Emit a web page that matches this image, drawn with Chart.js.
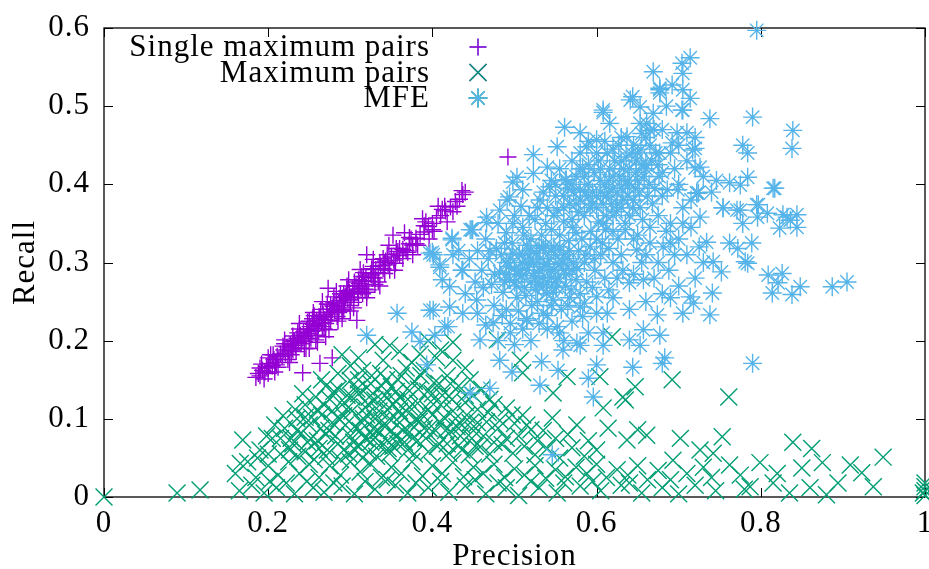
<!DOCTYPE html>
<html>
<head>
<meta charset="utf-8">
<script src="https://cdn.jsdelivr.net/npm/chart.js@4.4.1/dist/chart.umd.min.js"></script>
<style>
  html, body { margin: 0; padding: 0; background: #fff; overflow: hidden; }
  canvas { display: block; }
</style>
</head>
<body>
<canvas id="chart" width="929" height="569"></canvas>
<script>
// series labels (legend order)
const seriesNames = ['Single maximum pairs', 'Maximum pairs', 'MFE'];

// [precision, recall]
const singlePairs = [
  [0.185,0.153],[0.188,0.158],[0.19,0.155],[0.193,0.162],[0.196,0.160],[0.198,0.167],[0.2,0.165],[0.202,0.171],
  [0.205,0.168],[0.207,0.176],[0.209,0.172],[0.211,0.180],[0.213,0.176],[0.215,0.183],[0.217,0.180],[0.219,0.188],
  [0.221,0.184],[0.223,0.192],[0.225,0.187],[0.227,0.195],[0.229,0.191],[0.231,0.199],[0.233,0.194],[0.235,0.203],
  [0.237,0.198],[0.239,0.207],[0.241,0.201],[0.243,0.211],[0.245,0.205],[0.247,0.214],[0.249,0.209],[0.251,0.218],
  [0.253,0.212],[0.255,0.221],[0.257,0.216],[0.259,0.226],[0.261,0.219],[0.263,0.229],[0.265,0.223],[0.267,0.233],
  [0.269,0.227],[0.271,0.236],[0.273,0.231],[0.275,0.240],[0.277,0.234],[0.279,0.244],[0.281,0.238],[0.283,0.248],
  [0.285,0.242],[0.287,0.251],[0.289,0.245],[0.291,0.255],[0.293,0.249],[0.295,0.258],[0.297,0.253],[0.299,0.262],
  [0.301,0.256],[0.303,0.266],[0.305,0.260],[0.307,0.270],[0.309,0.263],[0.311,0.273],[0.313,0.267],[0.315,0.277],
  [0.317,0.270],[0.319,0.281],[0.322,0.276],[0.325,0.286],[0.328,0.281],[0.331,0.291],[0.334,0.287],[0.337,0.296],
  [0.340,0.292],[0.343,0.302],[0.346,0.297],[0.35,0.307],[0.353,0.303],[0.357,0.311],[0.36,0.309],[0.364,0.317],
  [0.368,0.315],[0.372,0.324],[0.376,0.322],[0.38,0.331],[0.385,0.336],[0.39,0.339],[0.395,0.346],[0.40,0.350],
  [0.405,0.357],[0.41,0.360],[0.416,0.366],[0.422,0.371],[0.428,0.378],[0.433,0.381],[0.437,0.387],[0.44,0.39],
  [0.21,0.169],[0.23,0.188],[0.24,0.196],[0.25,0.225],[0.26,0.213],[0.262,0.231],[0.27,0.222],[0.28,0.249],
  [0.29,0.238],[0.296,0.264],[0.3,0.252],[0.31,0.278],[0.318,0.266],[0.326,0.292],[0.33,0.280],[0.345,0.310],
  [0.355,0.299],[0.22,0.196],[0.228,0.182],[0.236,0.210],[0.244,0.199],[0.254,0.228],[0.266,0.218],[0.276,0.246],
  [0.286,0.236],[0.292,0.260],[0.304,0.249],[0.314,0.282],[0.32,0.262],[0.336,0.300],[0.342,0.286],[0.36,0.318],
  [0.37,0.313],[0.38,0.324],[0.39,0.347],[0.4,0.342],[0.415,0.372],[0.43,0.372],[0.2,0.178],[0.195,0.151],[0.19,0.165],
  [0.192,0.17],[0.2,0.158],[0.206,0.182],[0.212,0.166],[0.218,0.193],[0.224,0.176],[0.23,0.206],[0.234,0.186],
  [0.238,0.215],[0.244,0.19],[0.248,0.224],[0.252,0.203],[0.256,0.232],[0.26,0.207],[0.264,0.24],[0.268,0.215],
  [0.272,0.247],[0.276,0.226],[0.28,0.256],[0.284,0.231],[0.288,0.26],[0.292,0.24],[0.296,0.27],[0.3,0.245],
  [0.305,0.275],[0.31,0.255],[0.316,0.287],[0.322,0.265],[0.328,0.295],[0.334,0.275],[0.34,0.305],[0.348,0.29],
  [0.356,0.318],[0.364,0.305],[0.372,0.332],[0.382,0.322],[0.392,0.352],[0.402,0.34],[0.412,0.368],[0.425,0.365],
  [0.436,0.392],[0.27,0.205],[0.285,0.225],[0.3,0.238],[0.315,0.26],[0.33,0.272],[0.26,0.198],[0.25,0.19],
  [0.203,0.182],[0.208,0.16],[0.22,0.201],[0.226,0.172],[0.238,0.222],[0.246,0.19],[0.255,0.236],[0.258,0.201],
  [0.266,0.25],[0.274,0.214],[0.283,0.263],[0.29,0.228],[0.298,0.278],[0.304,0.242],[0.312,0.291],[0.32,0.255],
  [0.328,0.304],[0.336,0.27],[0.347,0.322],[0.354,0.29],[0.366,0.338],[0.376,0.31],[0.388,0.356],[0.396,0.33],
  [0.407,0.372],[0.418,0.352],[0.232,0.2],[0.248,0.215],[0.262,0.226],[0.278,0.24],[0.294,0.256],[0.31,0.27],
  [0.326,0.284],[0.342,0.3],[0.358,0.314],[0.374,0.33],
  [0.352,0.335],[0.320,0.310],[0.273,0.267],[0.242,0.159],[0.263,0.171],[0.278,0.178],[0.308,0.226],[0.492,0.435]
];

const maxPairs = [
  [0.29,0.182],[0.31,0.178],[0.33,0.195],[0.348,0.194],[0.36,0.186],[0.375,0.172],[0.395,0.2],[0.41,0.188],
  [0.425,0.175],[0.30,0.168],[0.34,0.175],[0.385,0.183],[0.44,0.165],[0.265,0.15],[0.405,0.178],
  [0.27,0.142],[0.285,0.158],[0.3,0.149],[0.315,0.162],[0.325,0.145],[0.337,0.158],[0.35,0.141],[0.362,0.155],
  [0.378,0.148],[0.39,0.162],[0.402,0.146],[0.418,0.155],[0.432,0.142],[0.446,0.15],[0.46,0.138],[0.258,0.128],
  [0.31,0.132],[0.342,0.13],[0.372,0.136],[0.42,0.129],
  [0.245,0.118],[0.26,0.112],[0.275,0.125],[0.29,0.118],[0.302,0.128],[0.318,0.115],[0.33,0.124],[0.345,0.112],
  [0.356,0.122],[0.368,0.11],[0.382,0.12],[0.395,0.112],[0.41,0.118],[0.425,0.11],[0.44,0.121],[0.455,0.112],
  [0.47,0.125],[0.49,0.114],[0.51,0.105],[0.285,0.138],[0.32,0.14],[0.36,0.128],[0.4,0.132],[0.45,0.13],[0.475,0.118],
  [0.22,0.088],[0.235,0.1],[0.25,0.092],[0.265,0.105],[0.278,0.095],[0.292,0.104],[0.305,0.09],[0.316,0.1],
  [0.328,0.088],[0.338,0.098],[0.35,0.085],[0.36,0.095],[0.372,0.083],[0.384,0.097],[0.396,0.088],[0.41,0.095],
  [0.422,0.084],[0.436,0.092],[0.45,0.085],[0.466,0.096],[0.48,0.088],[0.5,0.094],[0.52,0.086],[0.546,0.101],
  [0.576,0.092],[0.614,0.088],[0.65,0.086],[0.24,0.082],[0.27,0.08],[0.3,0.078],[0.33,0.076],[0.345,0.072],[0.325,0.07],
  [0.169,0.073],[0.19,0.06],[0.205,0.075],[0.215,0.055],[0.23,0.068],[0.245,0.058],[0.26,0.072],[0.272,0.06],
  [0.285,0.068],[0.298,0.055],[0.31,0.065],[0.322,0.058],[0.335,0.066],[0.348,0.056],[0.358,0.068],[0.37,0.06],
  [0.382,0.072],[0.395,0.058],[0.408,0.068],[0.42,0.056],[0.432,0.066],[0.445,0.054],[0.458,0.064],[0.47,0.055],
  [0.485,0.067],[0.498,0.056],[0.512,0.065],[0.525,0.054],[0.54,0.062],[0.555,0.05],[0.57,0.063],[0.585,0.052],
  [0.6,0.06],[0.637,0.073],[0.661,0.079],[0.702,0.075],[0.726,0.06],[0.742,0.056],[0.753,0.077],[0.839,0.07],
  [0.862,0.062],[0.949,0.051],
  [0.16,0.03],[0.175,0.045],[0.185,0.025],[0.2,0.04],[0.212,0.028],[0.225,0.045],[0.238,0.03],[0.25,0.042],
  [0.262,0.025],[0.275,0.04],[0.288,0.028],[0.3,0.045],[0.312,0.032],[0.325,0.042],[0.338,0.025],[0.35,0.038],
  [0.362,0.03],[0.375,0.045],[0.388,0.027],[0.4,0.04],[0.412,0.03],[0.425,0.044],[0.438,0.026],[0.45,0.038],
  [0.462,0.03],[0.475,0.042],[0.488,0.025],[0.5,0.036],[0.512,0.028],[0.525,0.04],[0.538,0.024],[0.55,0.035],
  [0.562,0.026],[0.575,0.038],[0.588,0.03],[0.6,0.042],[0.612,0.025],[0.625,0.035],[0.638,0.028],[0.65,0.04],
  [0.662,0.022],[0.675,0.034],[0.693,0.047],[0.71,0.03],[0.73,0.038],[0.762,0.041],[0.775,0.028],[0.799,0.044],
  [0.85,0.037],[0.875,0.044],[0.909,0.041],[0.923,0.031],[0.82,0.03],
  [0,0],[0.089,0.005],[0.117,0.009],[0.165,0.008],[0.18,0.015],[0.195,0.005],[0.21,0.012],[0.232,0.004],
  [0.255,0.012],[0.268,0.006],[0.29,0.014],[0.305,0.004],[0.33,0.01],[0.355,0.015],[0.37,0.005],[0.395,0.012],
  [0.42,0.006],[0.44,0.014],[0.465,0.004],[0.49,0.012],[0.505,0.002],[0.53,0.012],[0.552,0.005],[0.58,0.014],
  [0.605,0.008],[0.63,0.015],[0.655,0.005],[0.68,0.012],[0.7,0.004],[0.72,0.015],[0.745,0.008],[0.787,0.013],
  [0.815,0.018],[0.835,0.005],[0.86,0.012],[0.894,0.018],[0.937,0.013],[0.88,0.003],
  [1,0.002],[1,0.008],[1,0.013],[1,0.018],[0.998,0.005],
  [0.692,0.15],[0.761,0.128],[0.647,0.141],[0.635,0.124],[0.608,0.114],
  [0.425,0.198],[0.479,0.201],[0.619,0.205],[0.604,0.154],[0.507,0.175],[0.51,0.159],[0.547,0.133],[0.564,0.154],
  [0.632,0.128],[0.166,0.043],
  [0.228,0.075],[0.236,0.052],[0.248,0.07],[0.256,0.048],[0.264,0.088],[0.27,0.052],[0.278,0.11],[0.282,0.078],
  [0.288,0.048],[0.294,0.092],[0.298,0.115],[0.304,0.07],[0.308,0.138],[0.312,0.085],[0.315,0.05],[0.32,0.105],
  [0.323,0.128],[0.327,0.08],[0.332,0.052],[0.335,0.11],[0.338,0.142],[0.342,0.09],[0.346,0.062],[0.352,0.118],
  [0.355,0.078],[0.358,0.15],[0.362,0.105],[0.366,0.07],[0.37,0.125],[0.375,0.092],[0.378,0.055],[0.383,0.138],
  [0.388,0.105],[0.392,0.075],[0.398,0.122],[0.404,0.085],[0.408,0.145],[0.414,0.102],[0.418,0.068],[0.424,0.125],
  [0.43,0.09],[0.436,0.06],[0.442,0.105],[0.448,0.075],[0.455,0.095],[0.462,0.078],[0.468,0.108],[0.475,0.07],
  [0.482,0.098],[0.49,0.075],[0.497,0.105],[0.505,0.078],[0.515,0.092],[0.528,0.072],[0.535,0.085],[0.55,0.075],
  [0.565,0.08],[0.59,0.072],[0.253,0.102],[0.242,0.132],[0.233,0.112],[0.218,0.104],[0.208,0.092],[0.198,0.078],
  [0.187,0.05],[0.202,0.02],[0.222,0.018],[0.247,0.02],[0.28,0.018],[0.318,0.02],[0.345,0.022],[0.38,0.018],
  [0.41,0.02],[0.452,0.022],[0.48,0.018],[0.52,0.02],[0.56,0.018],[0.595,0.02],[0.64,0.018],[0.69,0.022],
  [0.74,0.025],[0.78,0.01],
  [0.262,0.062],[0.268,0.118],[0.274,0.085],[0.28,0.135],[0.286,0.1],[0.292,0.06],[0.296,0.13],[0.302,0.11],
  [0.306,0.06],[0.31,0.15],[0.314,0.095],[0.318,0.075],[0.322,0.118],[0.326,0.155],[0.33,0.1],[0.334,0.085],
  [0.34,0.122],[0.344,0.15],[0.348,0.1],[0.352,0.065],[0.356,0.135],[0.36,0.11],[0.364,0.085],[0.368,0.165],
  [0.372,0.115],[0.376,0.075],[0.38,0.1],[0.386,0.155],[0.39,0.088],[0.394,0.135],[0.4,0.105],[0.406,0.065],
  [0.412,0.13],[0.416,0.085],[0.422,0.145],[0.428,0.1],[0.434,0.078],[0.44,0.13],[0.446,0.095],[0.452,0.065],
  [0.235,0.085],[0.245,0.102],[0.252,0.075],[0.215,0.075],[0.226,0.06],[0.2,0.055]
];

const mfePoints = [
  // dense lower core
  [0.46,0.29],[0.468,0.305],[0.472,0.272],[0.478,0.318],[0.482,0.288],[0.486,0.262],[0.49,0.3],[0.494,0.278],
  [0.497,0.325],[0.5,0.292],[0.503,0.255],[0.506,0.31],[0.509,0.283],[0.512,0.268],[0.515,0.322],[0.518,0.298],
  [0.521,0.245],[0.524,0.286],[0.527,0.312],[0.53,0.272],[0.533,0.335],[0.536,0.295],[0.539,0.26],[0.542,0.305],
  [0.545,0.281],[0.548,0.32],[0.551,0.268],[0.554,0.298],[0.557,0.24],[0.56,0.31],[0.563,0.285],[0.566,0.328],
  [0.569,0.265],[0.572,0.3],[0.575,0.278],[0.578,0.315],[0.475,0.245],[0.485,0.232],[0.495,0.222],[0.505,0.238],
  [0.515,0.228],[0.528,0.25],[0.54,0.232],[0.552,0.218],[0.565,0.245],[0.58,0.26],[0.49,0.338],[0.51,0.345],
  [0.525,0.355],[0.545,0.342],[0.56,0.352],[0.575,0.338],[0.465,0.33],[0.48,0.35],[0.5,0.36],[0.52,0.33],
  [0.535,0.318],[0.555,0.335],[0.57,0.29],[0.585,0.3],[0.588,0.275],[0.592,0.32],[0.598,0.29],[0.605,0.31],
  [0.51,0.3],[0.53,0.29],[0.52,0.275],[0.54,0.275],[0.5,0.275],[0.548,0.29],
  [0.462,0.268],[0.47,0.315],[0.476,0.285],[0.484,0.31],[0.488,0.275],[0.493,0.295],[0.498,0.312],[0.502,0.27],
  [0.507,0.29],[0.511,0.335],[0.514,0.258],[0.519,0.315],[0.523,0.3],[0.526,0.265],[0.531,0.305],[0.534,0.28],
  [0.538,0.322],[0.543,0.29],[0.547,0.262],[0.55,0.31],[0.553,0.28],[0.558,0.3],[0.562,0.27],[0.567,0.315],
  [0.571,0.345],[0.576,0.292],[0.582,0.33],[0.587,0.31],[0.593,0.34],[0.597,0.305],[0.602,0.352],[0.607,0.325],
  [0.611,0.342],[0.615,0.318],[0.62,0.36],[0.626,0.33],[0.63,0.37],[0.635,0.342],[0.64,0.36],
  [0.505,0.285],[0.51,0.31],[0.515,0.29],[0.52,0.305],[0.525,0.28],[0.53,0.32],[0.535,0.27],[0.54,0.298],
  [0.545,0.315],[0.55,0.275],[0.555,0.32],[0.56,0.29],[0.565,0.305],[0.495,0.305],[0.49,0.285],
  // dense upper core
  [0.56,0.37],[0.565,0.395],[0.57,0.355],[0.575,0.41],[0.58,0.38],[0.585,0.36],[0.59,0.425],[0.595,0.39],
  [0.6,0.37],[0.604,0.405],[0.608,0.35],[0.612,0.385],[0.616,0.42],[0.62,0.395],[0.624,0.365],[0.628,0.41],
  [0.632,0.38],[0.636,0.435],[0.64,0.4],[0.644,0.37],[0.648,0.415],[0.652,0.39],[0.656,0.355],[0.66,0.425],
  [0.664,0.4],[0.668,0.375],[0.672,0.44],[0.676,0.41],[0.68,0.385],[0.6,0.44],[0.61,0.455],[0.62,0.445],
  [0.63,0.46],[0.645,0.45],[0.655,0.465],[0.665,0.45],[0.59,0.455],[0.58,0.44],[0.57,0.43],[0.555,0.42],
  [0.545,0.405],[0.55,0.385],[0.54,0.37],[0.535,0.39],[0.62,0.34],[0.635,0.35],[0.65,0.335],[0.665,0.345],
  [0.6,0.33],[0.612,0.36],[0.625,0.39],[0.638,0.385],[0.59,0.4],[0.605,0.39],[0.615,0.405],[0.63,0.395],
  [0.647,0.395],[0.653,0.37],[0.658,0.41],[0.662,0.385],[0.667,0.43],[0.671,0.395],[0.675,0.425],[0.586,0.39],
  [0.592,0.37],[0.597,0.415],[0.602,0.43],[0.608,0.375],[0.613,0.44],[0.618,0.375],[0.622,0.43],[0.627,0.45],
  [0.633,0.42],[0.638,0.405],[0.643,0.44],[0.648,0.43],[0.654,0.445],[0.572,0.39],[0.578,0.365],[0.583,0.42],
  [0.567,0.375],[0.562,0.405],[0.548,0.36],[0.538,0.35],[0.528,0.37],[0.518,0.36],[0.508,0.372],[0.498,0.35],
  [0.488,0.325],[0.455,0.315],[0.445,0.305],[0.452,0.275],[0.44,0.26],[0.432,0.315],
  [0.6,0.385],[0.605,0.42],[0.61,0.4],[0.615,0.39],[0.62,0.41],[0.625,0.375],[0.63,0.43],[0.635,0.4],
  [0.64,0.42],[0.645,0.38],[0.65,0.405],[0.655,0.425],[0.585,0.41],[0.59,0.385],[0.595,0.375],[0.57,0.4],
  [0.575,0.375],[0.58,0.42],[0.56,0.385],[0.55,0.4],
  // upper edge
  [0.498,0.403],[0.523,0.438],[0.561,0.473],[0.608,0.492],[0.644,0.512],[0.677,0.523],[0.494,0.384],[0.466,0.358],
  [0.448,0.342],[0.424,0.329],[0.397,0.312],[0.409,0.297],[0.608,0.495],[0.641,0.508],[0.677,0.517],[0.705,0.495],
  [0.717,0.444],[0.698,0.466],[0.686,0.393],[0.722,0.389],[0.637,0.461],[0.6,0.457],[0.58,0.466],[0.616,0.478],
  [0.653,0.478],[0.669,0.491],[0.54,0.422],[0.552,0.448],[0.588,0.448],[0.523,0.414],[0.51,0.393],[0.482,0.367],
  [0.449,0.342],[0.466,0.351],[0.491,0.38],[0.503,0.409],[0.543,0.397],[0.563,0.406],[0.531,0.38],[0.552,0.367],
  [0.58,0.393],
  // top right
  [0.795,0.597],[0.714,0.562],[0.704,0.555],[0.669,0.544],[0.705,0.542],[0.677,0.521],[0.692,0.527],[0.705,0.521],
  [0.714,0.51],[0.704,0.495],[0.738,0.484],[0.79,0.486],[0.839,0.469],[0.838,0.446],[0.778,0.45],[0.784,0.44],
  [0.72,0.446],[0.726,0.422],[0.746,0.405],[0.762,0.402],[0.784,0.409],[0.775,0.399],[0.817,0.395],[0.722,0.389],
  [0.699,0.393],[0.754,0.37],[0.771,0.367],[0.795,0.374],[0.827,0.361],[0.844,0.361],[0.71,0.466],[0.665,0.469],
  [0.677,0.44],[0.692,0.453],[0.72,0.421],[0.653,0.499],[0.661,0.478],
  // right spread
  [0.905,0.275],[0.887,0.269],[0.848,0.269],[0.838,0.259],[0.814,0.261],[0.821,0.274],[0.809,0.284],[0.826,0.286],
  [0.738,0.233],[0.718,0.248],[0.741,0.261],[0.781,0.301],[0.784,0.299],[0.789,0.325],[0.762,0.325],[0.772,0.318],
  [0.734,0.326],[0.742,0.301],[0.752,0.288],[0.823,0.344],[0.836,0.354],[0.844,0.345],[0.832,0.358],[0.796,0.358],
  [0.808,0.363],[0.775,0.367],[0.754,0.37],[0.815,0.395],[0.724,0.389],[0.726,0.358],[0.778,0.35],[0.797,0.374],
  [0.69,0.35],[0.7,0.33],[0.705,0.37],[0.71,0.31],[0.715,0.345],[0.72,0.28],[0.725,0.32],[0.73,0.3],
  [0.695,0.31],[0.685,0.34],[0.675,0.36],[0.665,0.325],[0.655,0.3],[0.67,0.28],[0.645,0.33],[0.63,0.31],
  [0.62,0.3],[0.61,0.28],[0.7,0.27],[0.69,0.255],[0.68,0.26],[0.66,0.25],[0.64,0.24],[0.62,0.255],
  [0.6,0.235],[0.59,0.21],[0.57,0.225],[0.56,0.2],[0.54,0.215],[0.52,0.2],[0.5,0.195],[0.49,0.24],
  [0.7,0.4],[0.695,0.42],[0.71,0.43],[0.73,0.41],[0.74,0.39],[0.69,0.44],[0.68,0.47],[0.7,0.45],
  [0.65,0.44],[0.66,0.42],[0.67,0.47],[0.685,0.5],[0.72,0.46],
  [0.455,0.235],[0.465,0.22],[0.48,0.2],[0.51,0.215],[0.53,0.222],[0.545,0.245],[0.567,0.255],[0.585,0.248],
  [0.595,0.268],[0.615,0.265],[0.632,0.29],[0.645,0.285],[0.66,0.31],[0.675,0.3],[0.69,0.325],[0.705,0.35],
  [0.715,0.38],[0.68,0.415],[0.66,0.46],
  // left edge and lower part
  [0.401,0.31],[0.409,0.294],[0.424,0.331],[0.401,0.239],[0.421,0.243],[0.415,0.218],[0.437,0.235],[0.458,0.201],
  [0.421,0.269],[0.436,0.29],[0.446,0.342],[0.454,0.252],[0.474,0.223],[0.495,0.21],[0.515,0.226],[0.555,0.21],
  [0.576,0.197],[0.608,0.21],[0.64,0.201],[0.674,0.233],[0.688,0.29],[0.705,0.235],[0.714,0.256],[0.657,0.278],
  [0.64,0.274],[0.625,0.28],[0.649,0.316],[0.681,0.32],[0.58,0.243],[0.6,0.256],[0.547,0.252],[0.535,0.235],
  [0.583,0.231],[0.613,0.235],[0.657,0.214],[0.677,0.207],
  [0.482,0.175],[0.497,0.16],[0.533,0.173],[0.531,0.143],[0.559,0.188],[0.553,0.162],[0.59,0.152],[0.596,0.128],
  [0.6,0.169],[0.644,0.166],[0.683,0.178],[0.68,0.171],[0.79,0.171],[0.47,0.139],[0.446,0.133],[0.546,0.054],
  [0.653,0.194],[0.608,0.194],[0.58,0.194],
  [0.32,0.207],[0.357,0.235],[0.397,0.239],[0.375,0.211],[0.385,0.199],[0.403,0.207],[0.419,0.218],[0.393,0.169],
  [0.4,0.313],[0.412,0.278],[0.437,0.29],[0.425,0.31]
];

const xRange = [0, 1];
const yRange = [0, 0.6];

const colors = ['#9400d3', '#009e73', '#56b4e9'];
const serif = '"Liberation Serif", "Times New Roman", serif';

const toXY = arr => arr.map(p => ({ x: p[0], y: p[1] }));
const tickText = v => String(Math.round(v * 10) / 10);

// wider letter spacing, closer to the LaTeX look of the original
const spacingPlugin = {
  id: 'spacing',
  beforeDraw(chart) { chart.ctx.letterSpacing = '1px'; }
};

// gnuplot style frame with inward mirrored ticks
const framePlugin = {
  id: 'frame',
  beforeDatasetsDraw(chart) {
    const { ctx, chartArea: a, scales } = chart;
    ctx.save();
    ctx.strokeStyle = '#000';
    ctx.lineWidth = 1.3;
    ctx.strokeRect(a.left, a.top, a.right - a.left, a.bottom - a.top);
    ctx.lineWidth = 1;
    const len = 9;
    ctx.beginPath();
    scales.x.ticks.forEach(t => {
      const px = Math.round(scales.x.getPixelForValue(t.value)) + 0.5;
      ctx.moveTo(px, a.bottom); ctx.lineTo(px, a.bottom - len);
      ctx.moveTo(px, a.top); ctx.lineTo(px, a.top + len);
    });
    scales.y.ticks.forEach(t => {
      const py = Math.round(scales.y.getPixelForValue(t.value)) + 0.5;
      ctx.moveTo(a.left, py); ctx.lineTo(a.left + len, py);
      ctx.moveTo(a.right, py); ctx.lineTo(a.right - len, py);
    });
    ctx.stroke();
    ctx.restore();
  }
};

// legend: right aligned text, marker on the right
const keyPlugin = {
  id: 'key',
  afterDatasetsDraw(chart) {
    const { ctx } = chart;
    ctx.save();
    ctx.font = '31px ' + serif;
    ctx.fillStyle = '#000';
    ctx.textAlign = 'right';
    ctx.textBaseline = 'middle';
    const textX = 430, markX = 478, y0 = 47, step = 25.5;
    chart.data.datasets.forEach((ds, i) => {
      const y = y0 + i * step;
      ctx.fillText(ds.label, textX, y + 1);
      Chart.helpers.drawPoint(ctx, {
        pointStyle: ds.pointStyle,
        radius: ds.pointRadius,
        borderWidth: ds.borderWidth
      }, markX, y);
      ctx.strokeStyle = ds.borderColor;
      ctx.lineWidth = ds.borderWidth;
      ctx.stroke();
    });
    ctx.restore();
  }
};

const noPad = () => ({ left: 0, top: 0, right: 0, bottom: 0 });

new Chart(document.getElementById('chart'), {
  type: 'scatter',
  data: {
    datasets: [
      {
        label: seriesNames[0],
        data: toXY(singlePairs),
        pointStyle: 'cross',
        pointRadius: 8.5,
        borderWidth: 1.4,
        borderColor: colors[0],
        backgroundColor: colors[0],
        clip: false,
        order: 3
      },
      {
        label: seriesNames[1],
        data: toXY(maxPairs),
        pointStyle: 'crossRot',
        pointRadius: 12,
        borderWidth: 1.4,
        borderColor: colors[1],
        backgroundColor: colors[1],
        clip: false,
        order: 2
      },
      {
        label: seriesNames[2],
        data: toXY(mfePoints),
        pointStyle: 'star',
        pointRadius: 9.5,
        borderWidth: 1.4,
        borderColor: colors[2],
        backgroundColor: colors[2],
        clip: false,
        order: 1
      }
    ]
  },
  options: {
    responsive: false,
    devicePixelRatio: 1,
    animation: false,
    events: [],
    layout: { autoPadding: false, padding: { top: 28, right: 4, bottom: 0, left: 0 } },
    plugins: {
      legend: { display: false },
      tooltip: { enabled: false }
    },
    scales: {
      x: {
        type: 'linear',
        min: xRange[0],
        max: xRange[1],
        grid: { display: false, drawTicks: false },
        border: { display: false },
        ticks: {
          stepSize: 0.2,
          padding: 8,
          color: '#000',
          maxRotation: 0,
          callback: tickText,
          font: { family: serif, size: 31 }
        },
        title: {
          display: true,
          text: 'Precision',
          color: '#000',
          font: { family: serif, size: 31, lineHeight: 0.8 },
          padding: { top: 0, bottom: 0 }
        },
        afterFit(s) {
          s.height = 72;
          s.paddingLeft = 0;
          s.paddingRight = 0;
          s.getPadding = noPad;
        }
      },
      y: {
        type: 'linear',
        min: yRange[0],
        max: yRange[1],
        grid: { display: false, drawTicks: false },
        border: { display: false },
        ticks: {
          stepSize: 0.1,
          padding: 14,
          color: '#000',
          callback: tickText,
          font: { family: serif, size: 31 }
        },
        title: {
          display: true,
          text: 'Recall',
          color: '#000',
          font: { family: serif, size: 31, lineHeight: 0.8 },
          padding: { top: 13, bottom: 0 }
        },
        afterFit(s) {
          s.width = 104;
          s.paddingTop = 0;
          s.paddingBottom = 0;
          s.getPadding = noPad;
        }
      }
    }
  },
  plugins: [spacingPlugin, framePlugin, keyPlugin]
});
</script>
</body>
</html>
